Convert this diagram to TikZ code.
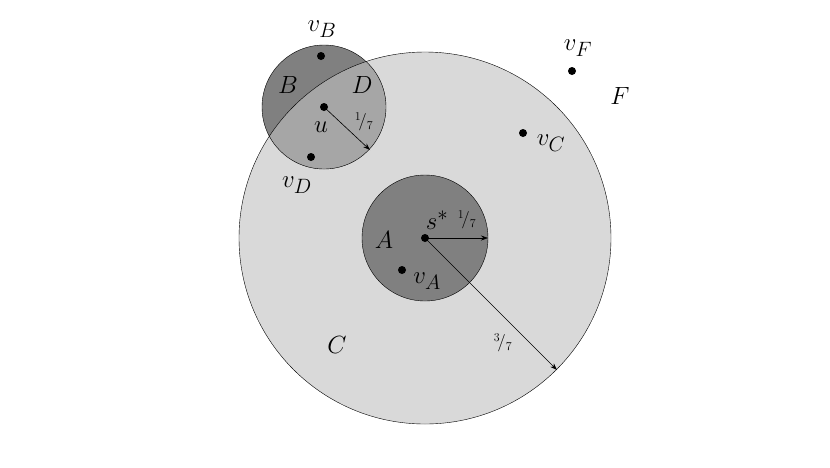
\documentclass[tikz,border=0pt]{standalone}
\usetikzlibrary{arrows.meta}
\begin{document}
\begin{tikzpicture}[x=1pt,y=-1pt,
  dot/.style={circle,fill=black,inner sep=0pt,minimum size=8pt},
  lbl/.style={inner sep=0pt,font=\fontsize{28}{32}\selectfont},
  frac/.style={inner sep=0pt,font=\fontsize{18}{20}\selectfont},
  arr/.style={-{Stealth[length=7pt,width=5pt]},line width=0.6pt}]
\useasboundingbox (0,0) rectangle (830,467);
\fill[black!15] (425,238) circle (186);
\fill[black!50] (324,107) circle (62);
\begin{scope}
  \clip (425,238) circle (186);
  \fill[black!35] (324,107) circle (62);
\end{scope}
\fill[black!50] (425,238) circle (63);
\draw (425,238) circle (186);
\draw (324,107) circle (62);
\draw (425,238) circle (63);
\node[dot] (s) at (425,238) {};
\node[dot] (u) at (324,107) {};
\node[dot] (vb) at (321,56) {};
\node[dot] (vd) at (311,157) {};
\node[dot] (vc) at (523,133) {};
\node[dot] (vf) at (572,71) {};
\node[dot] (va) at (402,270) {};
\coordinate (e1) at (370,150);
\coordinate (e2) at (488,238);
\coordinate (e3) at (557,370);
\draw[arr] (u.center) -- (e1);
\draw[arr] (s.center) -- (e2);
\draw[arr] (s.center) -- (e3);
\node[lbl] (lvb) at (322,29) {$v_B$};
\node[lbl] (lB) at (288,85) {$B$};
\node[lbl] (lD) at (362,85) {$D$};
\node[lbl] (lu) at (321,127) {$u$};
\node[frac] (f1) at (364,122) {$^1\!/_7$};
\node[lbl] (lvd) at (297,185) {$v_D$};
\node[lbl] (lvc) at (551,143) {$v_C$};
\node[lbl] (lvf) at (578,48) {$v_F$};
\node[lbl] (lF) at (620,96) {$F$};
\node[lbl] (lA) at (384,240) {$A$};
\node[lbl] (ls) at (437,220) {$s^*$};
\node[frac] (f2) at (467,220) {$^1\!/_7$};
\node[lbl] (lva) at (427,281) {$v_A$};
\node[lbl] (lC) at (337,345) {$C$};
\node[frac] (f3) at (503,343) {$^3\!/_7$};
\end{tikzpicture}
\end{document}
